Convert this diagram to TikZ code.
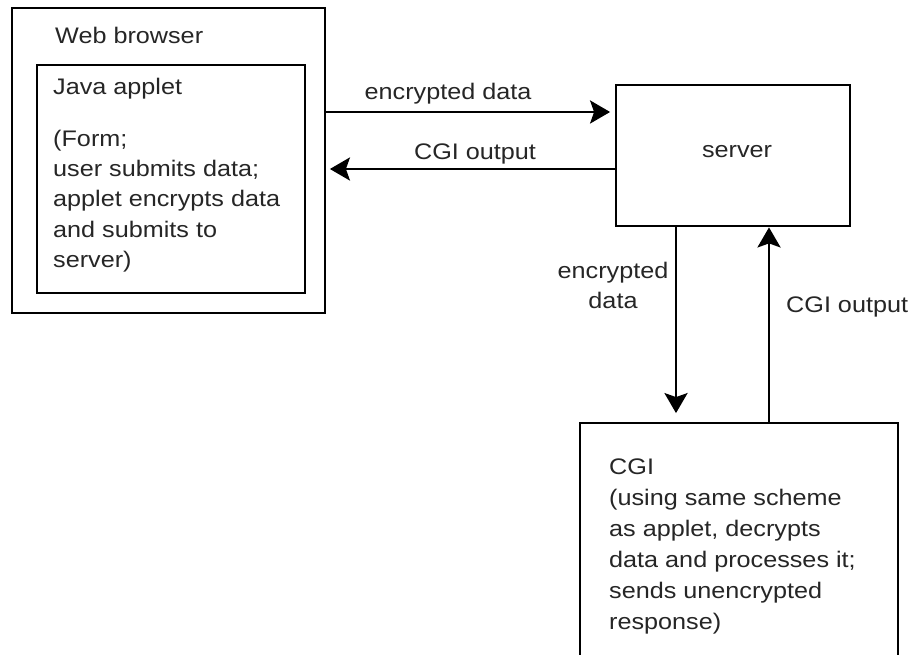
\documentclass[tikz,border=0pt]{standalone}
\usepackage{fontspec}
\setmainfont{Liberation Sans}[FakeStretch=1.12]
\usetikzlibrary{arrows.meta}
\begin{document}
\begin{tikzpicture}[x=1pt,y=-1pt,
  box/.style={draw=black, line width=2.8pt, rectangle, inner sep=0pt},
  txt/.style={inner sep=0pt, text=black!85, font=\fontsize{22.5}{30.5}\selectfont},
  arr/.style={draw=black, line width=2.8pt, -{Stealth[length=20pt,width=23pt,inset=4pt]}}]
\clip (0,0) rectangle (912,655);
\fill[white] (0,0) rectangle (912,655);
% boxes
\node[box, minimum width=313pt, minimum height=305pt] (browser) at (168.5,160.5) {};
\node[box, minimum width=268pt, minimum height=228pt] (applet) at (171,179) {};
\node[box, minimum width=234pt, minimum height=141pt] (server) at (733,155.5) {};
\node[box, minimum width=318pt, minimum height=257pt] (cgi) at (739,551.5) {};
% texts in boxes
\node[txt, anchor=base west] (tweb) at (55,44) {Web browser};
\node[txt, anchor=base west] (tjava) at (53,95) {Java applet};
\node[txt, anchor=base west] (tform) at (53,147) {\parbox[t]{250pt}{\raggedright\baselineskip=30pt
(Form;\\user submits data;\\applet encrypts data\\and submits to\\server)}};
\node[txt, anchor=base] (tserver) at (737,158) {server};
\node[txt, anchor=base west] (tcgi) at (609,474) {\parbox[t]{285pt}{\raggedright\baselineskip=31pt
CGI\\(using same scheme\\as applet, decrypts\\data and processes it;\\sends unencrypted\\response)}};
% connectors
\coordinate (ya) at (0,112);
\coordinate (yb) at (0,169);
\coordinate (xa) at (676,0);
\coordinate (xb) at (769,0);
\draw[arr, shorten >=4.5pt] (ya -| browser.east) -- (ya -| server.west);
\draw[arr, shorten >=3.5pt] (yb -| server.west) -- (yb -| browser.east);
\draw[arr, shorten >=8.5pt] (xa |- server.south) -- (xa |- cgi.north);
\draw[arr, shorten >=0pt] (xb |- cgi.north) -- (xb |- server.south);
% labels
\node[txt, anchor=base] (lenc) at (448,100) {encrypted data};
\node[txt, anchor=base] (lcgi) at (475,160) {CGI output};
\node[txt, anchor=base] (lenc2) at (613,278) {\parbox[t]{120pt}{\centering\baselineskip=30pt encrypted\\data}};
\node[txt, anchor=base west] (lcgi2) at (786,312) {CGI output};
\end{tikzpicture}
\end{document}
